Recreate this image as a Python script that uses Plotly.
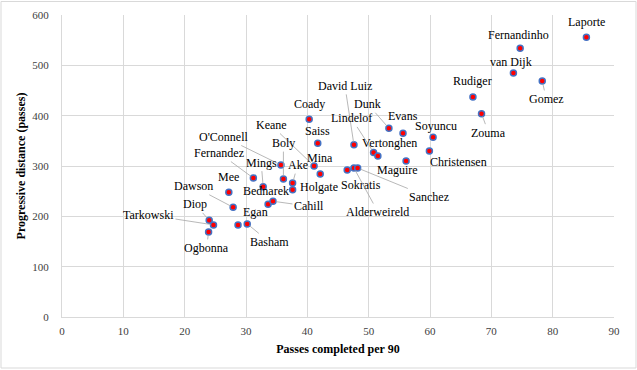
import plotly.graph_objects as go

players = ["Laporte", "Fernandinho", "van Dijk", "Gomez", "Rudiger", "Zouma", "Soyuncu",
           "Christensen", "Evans", "Dunk", "David Luiz", "Lindelof", "Vertonghen", "Maguire",
           "Sokratis", "Alderweireld", "Sanchez", "Coady", "Saiss", "Keane", "Mina", "Holgate",
           "Ake", "Boly", "O'Connell", "Fernandez", "Mings", "Mee", "Bednarek", "Cahill",
           "Dawson", "Egan", "Basham", "Diop", "Tarkowski", "Ogbonna"]
passes_per90 = [85.5, 74.7, 73.6, 78.3, 67.0, 68.4, 60.5,
                59.9, 55.6, 53.3, 47.6, 50.8, 51.5, 56.1,
                46.5, 47.6, 48.2, 40.3, 41.7, 41.1, 42.1, 37.6,
                37.6, 36.1, 35.7, 31.2, 32.8, 27.2, 33.6, 34.4,
                27.9, 28.7, 30.2, 24.0, 24.7, 23.9]
prog_distance = [556, 534, 485, 469, 437, 404, 357,
                 330, 365, 375, 342, 327, 320, 310,
                 292, 296, 296, 393, 345, 300, 284, 253,
                 266, 274, 302, 276, 259, 248, 224, 230,
                 218, 183, 185, 192, 183, 169]

# label placement (pixel offsets from the point, line flag) -- layout only
label_offsets = {
    "Laporte": (0, -15, False), "Fernandinho": (-2, -13, False), "van Dijk": (-2, -11, False),
    "Gomez": (4, 18, True), "Rudiger": (0, -16, False), "Zouma": (7, 19, True),
    "Soyuncu": (3, -11, False), "Christensen": (29, 11, False), "Evans": (0, -17, False),
    "Dunk": (-21, -24, True), "David Luiz": (-9, -59, True), "Lindelof": (-22, -34, True),
    "Vertonghen": (12, -13, False), "Maguire": (-9, 9, False), "Sokratis": (14, 15, False),
    "Alderweireld": (24, 44, True), "Sanchez": (71, 29, True), "Coady": (0, -15, False),
    "Saiss": (0, -12, False), "Keane": (-43, -41, True), "Mina": (0, -16, False),
    "Holgate": (26, -3, False), "Ake": (5, -18, True), "Boly": (0, -36, True),
    "O'Connell": (-57, -28, True), "Fernandez": (-34, -25, True), "Mings": (-2, -24, True),
    "Mee": (0, -15, False), "Bednarek": (-2, -13, False), "Cahill": (36, 5, True),
    "Dawson": (-40, -21, True), "Egan": (17, -13, False), "Basham": (22, 18, True),
    "Diop": (-14, -16, True), "Tarkowski": (-65, -10, True), "Ogbonna": (-2, 16, True),
}

FONT = "Liberation Serif"

fig = go.Figure()
fig.add_trace(go.Scatter(
    x=passes_per90, y=prog_distance, mode="markers", text=players,
    marker=dict(size=6, color="#FF0000", line=dict(color="#4472C4", width=1.5)),
    hovertemplate="%{text}: %{x}, %{y}<extra></extra>",
))

annotations = []
for name, xv, yv in zip(players, passes_per90, prog_distance):
    dx, dy, line = label_offsets[name]
    if line:
        annotations.append(dict(
            x=xv, y=yv, text=name, showarrow=True, ax=dx, ay=dy,
            arrowhead=0, arrowwidth=0.8, arrowcolor="#a6a6a6", standoff=3,
            font=dict(family=FONT, size=12, color="#000000")))
    else:
        annotations.append(dict(
            x=xv, y=yv, text=name, showarrow=False, xshift=dx, yshift=-dy,
            font=dict(family=FONT, size=12, color="#000000")))

L, R, T, B = 62, 23, 15, 53
W, H = 637, 370
pw, ph = W - L - R, H - T - B

fig.update_layout(
    width=W, height=H,
    margin=dict(l=L, r=R, t=T, b=B, autoexpand=False),
    paper_bgcolor="white", plot_bgcolor="white",
    showlegend=False,
    font=dict(family=FONT, size=11, color="#404040"),
    annotations=annotations,
    shapes=[dict(type="rect", xref="paper", yref="paper",
                 x0=(1 - L) / pw, x1=(636 - L) / pw,
                 y0=(H - B - 368) / ph, y1=(H - B - 1.5) / ph,
                 line=dict(color="#d9d9d9", width=1), fillcolor="rgba(0,0,0,0)", layer="below")],
    xaxis=dict(range=[0, 90], dtick=10, tick0=0, showgrid=True, gridcolor="#d9d9d9",
               gridwidth=1, zeroline=False, showline=True, linecolor="#d9d9d9",
               ticks="", ticklabelstandoff=4, automargin=False,
               tickfont=dict(family=FONT, size=11, color="#404040"),
               title=dict(text="<b>Passes completed per 90</b>", standoff=8,
                          font=dict(family=FONT, size=12, color="#000000"))),
    yaxis=dict(range=[0, 600], dtick=100, tick0=0, showgrid=True, gridcolor="#d9d9d9",
               gridwidth=1, zeroline=False, showline=True, linecolor="#d9d9d9",
               ticks="", ticklabelstandoff=10, automargin=False,
               tickfont=dict(family=FONT, size=11, color="#404040"),
               title=dict(text="<b>Progressive distance (passes)</b>", standoff=4,
                          font=dict(family=FONT, size=12, color="#000000"))),
)

fig.write_html("out.html", config={"displayModeBar": False},
               post_script="document.body.style.margin='0';document.body.style.overflow='hidden';")
